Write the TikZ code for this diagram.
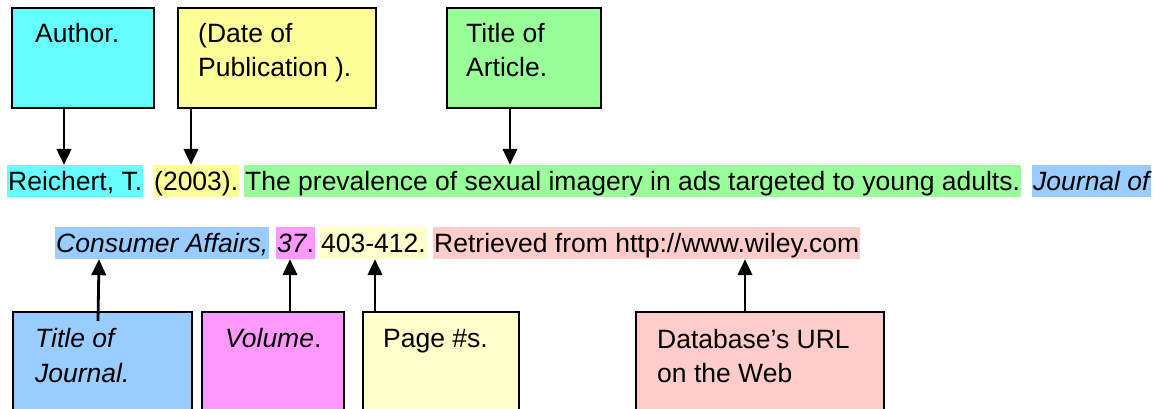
\documentclass[tikz,border=0pt]{standalone}
\usepackage{fontspec}
\setmainfont{Liberation Sans}
\usetikzlibrary{arrows.meta,calc}
\definecolor{cAuthor}{HTML}{66FFFF}
\definecolor{cDate}{HTML}{FFFF99}
\definecolor{cTitle}{HTML}{99FF99}
\definecolor{cJournal}{HTML}{99CCFF}
\definecolor{cVol}{HTML}{FF99FF}
\definecolor{cPage}{HTML}{FFFFCC}
\definecolor{cUrl}{HTML}{FFCCCC}
\begin{document}
\begin{tikzpicture}[x=1pt,y=-1pt,
  box/.style={draw=black, line width=2pt, anchor=north west, inner sep=0pt, minimum height=100pt},
  lbox/.style={draw=black, line width=2pt, anchor=north west, inner sep=0pt, minimum height=110pt},
  lbl/.style={anchor=base west, inner sep=0pt, font=\fontsize{26.5}{34.5}\selectfont},
  hl/.style={anchor=base west, inner xsep=1pt, inner ysep=0pt, text height=25pt, text depth=7pt, font=\fontsize{26.5}{32}\selectfont},
  arr/.style={line width=2.8pt, -{Triangle[width=14.5pt,length=16pt]}}]
\useasboundingbox (0,0) rectangle (1156,409);
\clip (0,0) rectangle (1156,409);
% top boxes
\node[box, fill=cAuthor, minimum width=142pt] (author) at (11,7) {};
\node[box, fill=cDate, minimum width=198pt] (date) at (177,7) {};
\node[box, fill=cTitle, minimum width=154pt] (titlebox) at (446,7) {};
\node[lbl] (authorA) at (35,43) {Author.};
\node[lbl] (dateA) at (198,43) {(Date of};
\node[lbl] (dateB) at (198,77) {Publication ).};
\node[lbl] (titleA) at (466,43) {Title of};
\node[lbl] (titleB) at (466,77) {Article.};
% reference line 1
\node[hl, fill=cAuthor] (reichert) at (7,190) {Reichert, T.\ };
\node[hl, fill=cDate] (year) at (153,190) {(2003).};
\node[hl, fill=cTitle] (article) at (244,190) {The prevalence of sexual imagery in ads targeted to young adults.};
\node[hl, fill=cJournal] (journalA) at (1032,190) {\itshape Journal of};
% reference line 2
\node[hl, fill=cJournal] (consumer) at (55,252) {\itshape Consumer Affairs,};
\node[hl, fill=cVol] (vol) at (276,252) {\textit{37}.};
\node[hl, fill=cPage] (pages) at (320,252) {403-412.};
\node[hl, fill=cUrl] (url) at (433,252) {Retrieved from http://www.wiley.com};
% bottom boxes
\node[lbox, fill=cJournal, minimum width=179pt] (jbox) at (12,311) {};
\node[lbox, fill=cVol, minimum width=142pt] (volbox) at (201,311) {};
\node[lbox, fill=cPage, minimum width=156pt] (pagebox) at (362,311) {};
\node[lbox, fill=cUrl, minimum width=248pt] (urlbox) at (635,311) {};
\node[lbl] (jA) at (35,347) {\itshape Title of};
\node[lbl] (jB) at (35,382) {\itshape Journal.};
\node[lbl] (volA) at (225,347) {\textit{Volume}.};
\node[lbl] (pageA) at (383,347) {Page \#s.};
\node[lbl] (urlA) at (657,348) {Database’s URL};
\node[lbl] (urlB) at (657,382) {on the Web};
% arrows
\draw[arr] (author.south -| 64,0) -- (reichert.north -| 64,0);
\draw[arr] (date.south -| 191,0) -- (year.north -| 191,0);
\draw[arr] (titlebox.south -| 510,0) -- (article.north -| 510,0);
\draw[arr] ([yshift=-10pt]jbox.north -| 98,0) -- (consumer.south -| 99,0);
\draw[arr] (volbox.north -| 290,0) -- (vol.south -| 290,0);
\draw[arr] (pagebox.north -| 375,0) -- (pages.south -| 375,0);
\draw[arr] (urlbox.north -| 745,0) -- (url.south -| 745,0);
\end{tikzpicture}
\end{document}
